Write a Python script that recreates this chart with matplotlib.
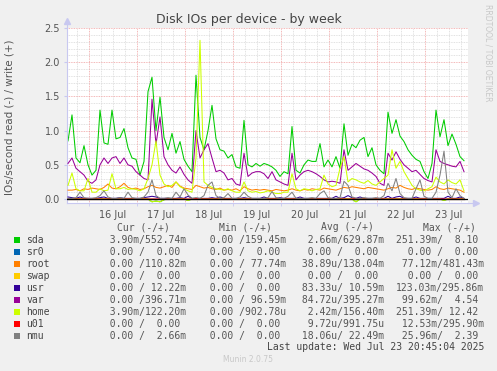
import numpy as np
import matplotlib.pyplot as plt
from matplotlib.patches import Rectangle

# samples every 2 hours, starting 15 Jul 13:30 (time axis in days of July)
start_day = 15 + 13.5 / 24
step_day = 2 / 24

sda = [0.85, 1.23, 0.60, 0.53, 0.78, 0.50, 0.35, 0.42, 1.30, 0.82,
       0.80, 1.30, 0.88, 0.90, 1.03, 0.75, 0.60, 0.58, 0.35, 0.55,
       1.57, 1.78, 1.00, 1.49, 0.90, 0.72, 0.96, 0.67, 0.84, 0.58,
       0.48, 0.40, 1.81, 0.90, 0.72, 1.00, 1.37, 0.88, 0.72, 0.70,
       0.60, 0.65, 0.47, 0.45, 1.15, 0.50, 0.47, 0.52, 0.48, 0.52,
       0.50, 0.47, 0.42, 0.33, 0.40, 0.37, 1.06, 0.42, 0.38, 0.50,
       0.57, 0.55, 0.55, 0.81, 0.47, 0.57, 0.47, 0.62, 0.45, 1.10,
       0.64, 0.80, 0.75, 0.86, 0.90, 0.62, 0.75, 0.50, 0.42, 0.37,
       1.27, 0.96, 1.16, 0.92, 0.84, 0.72, 0.64, 0.58, 0.55, 0.40,
       0.30, 0.52, 1.30, 0.91, 1.16, 0.78, 0.95, 0.80, 0.62, 0.56]

var = [0.52, 0.60, 0.45, 0.40, 0.35, 0.26, 0.23, 0.28, 0.50, 0.60,
       0.52, 0.60, 0.62, 0.52, 0.60, 0.50, 0.48, 0.40, 0.35, 0.30,
       0.28, 1.46, 0.80, 1.20, 0.62, 0.50, 0.42, 0.38, 0.47, 0.36,
       0.28, 0.23, 1.00, 0.60, 0.72, 0.81, 0.60, 0.40, 0.42, 0.38,
       0.28, 0.30, 0.22, 0.20, 0.67, 0.33, 0.38, 0.40, 0.40, 0.37,
       0.30, 0.40, 0.28, 0.25, 0.22, 0.20, 0.67, 0.28, 0.35, 0.40,
       0.42, 0.40, 0.37, 0.33, 0.28, 0.25, 0.26, 0.25, 0.23, 0.72,
       0.42, 0.47, 0.52, 0.48, 0.44, 0.42, 0.38, 0.33, 0.23, 0.20,
       0.67, 0.57, 0.69, 0.58, 0.50, 0.45, 0.40, 0.42, 0.36, 0.30,
       0.27, 0.25, 0.72, 0.55, 0.52, 0.50, 0.48, 0.47, 0.55, 0.40]

home = [0.20, 0.38, 0.15, 0.12, 0.12, 0.30, 0.10, 0.10, 0.15, 0.12,
        0.13, 0.37, 0.15, 0.15, 0.17, 0.14, 0.15, 0.14, 0.12, 0.15,
        0.30, 0.50, 0.85, 0.35, 0.22, 0.18, 0.20, 0.25, 0.18, 0.15,
        0.12, 0.10, 0.60, 2.32, 0.25, 0.20, 0.17, 0.15, 0.14, 0.13,
        0.15, 0.12, 0.10, 0.10, 0.25, 0.12, 0.10, 0.11, 0.09, 0.10,
        0.12, 0.10, 0.08, 0.08, 0.10, 0.10, 0.37, 0.15, 0.12, 0.15,
        0.14, 0.12, 0.14, 0.15, 0.35, 0.22, 0.18, 0.20, 0.45, 0.62,
        0.25, 0.30, 0.28, 0.25, 0.23, 0.27, 0.22, 0.20, 0.25, 0.30,
        0.35, 0.72, 0.45, 0.55, 0.40, 0.30, 0.20, 0.15, 0.13, 0.12,
        0.15, 0.18, 0.32, 0.25, 0.22, 0.28, 0.24, 0.22, 0.28, 0.12]

root = [0.13, 0.13, 0.14, 0.12, 0.15, 0.14, 0.16, 0.15, 0.14, 0.17,
        0.22, 0.16, 0.15, 0.18, 0.23, 0.17, 0.15, 0.16, 0.14, 0.15,
        0.18, 0.20, 0.17, 0.16, 0.18, 0.20, 0.17, 0.25, 0.19, 0.16,
        0.15, 0.14, 0.20, 0.18, 0.16, 0.17, 0.15, 0.14, 0.16, 0.13,
        0.14, 0.13, 0.15, 0.12, 0.18, 0.15, 0.13, 0.14, 0.13, 0.14,
        0.13, 0.12, 0.14, 0.13, 0.12, 0.13, 0.15, 0.13, 0.12, 0.14,
        0.13, 0.15, 0.14, 0.13, 0.16, 0.15, 0.14, 0.13, 0.15, 0.17,
        0.16, 0.18, 0.17, 0.16, 0.15, 0.17, 0.16, 0.15, 0.14, 0.13,
        0.15, 0.17, 0.16, 0.20, 0.17, 0.15, 0.14, 0.16, 0.15, 0.14,
        0.13, 0.14, 0.18, 0.15, 0.14, 0.16, 0.15, 0.14, 0.13, 0.10]

nmu = [0.01, 0.01, 0.02, 0.10, 0.02, 0.01, 0.01, 0.02, 0.05, 0.12,
       0.03, 0.01, 0.01, 0.02, 0.01, 0.10, 0.02, 0.01, 0.01, 0.03,
       0.10, 0.28, 0.05, 0.01, 0.01, 0.02, 0.01, 0.10, 0.03, 0.15,
       0.06, 0.01, 0.02, 0.01, 0.05, 0.20, 0.25, 0.05, 0.01, 0.02,
       0.08, 0.01, 0.01, 0.03, 0.10, 0.04, 0.01, 0.01, 0.01, 0.01,
       0.02, 0.11, 0.02, 0.01, 0.01, 0.04, 0.10, 0.01, 0.01, 0.01,
       0.01, 0.02, 0.01, 0.08, 0.12, 0.02, 0.01, 0.01, 0.02, 0.26,
       0.20, 0.03, 0.01, 0.01, 0.02, 0.01, 0.01, 0.02, 0.01, 0.05,
       0.23, 0.12, 0.30, 0.08, 0.02, 0.01, 0.01, 0.15, 0.28, 0.04,
       0.01, 0.01, 0.10, 0.35, 0.70, 0.10, 0.02, 0.15, 0.05, 0.01]

usr = [0.03, 0.02, 0.01, 0.03, 0.01, 0.01, 0.01, 0.01, 0.02, 0.03,
       0.01, 0.01, 0.01, 0.02, 0.01, 0.01, 0.01, 0.01, 0.01, 0.02,
       0.03, 0.04, 0.03, 0.01, 0.01, 0.01, 0.01, 0.01, 0.02, 0.01,
       0.04, 0.01, 0.01, 0.01, 0.01, 0.01, 0.02, 0.01, 0.03, 0.01,
       0.01, 0.01, 0.01, 0.01, 0.02, 0.01, 0.01, 0.01, 0.01, 0.03,
       0.01, 0.01, 0.01, 0.02, 0.01, 0.01, 0.01, 0.01, 0.03, 0.01,
       0.01, 0.01, 0.01, 0.01, 0.01, 0.01, 0.01, 0.04, 0.01, 0.02,
       0.05, 0.02, 0.01, 0.03, 0.01, 0.01, 0.01, 0.01, 0.01, 0.01,
       0.04, 0.01, 0.03, 0.04, 0.01, 0.01, 0.01, 0.03, 0.01, 0.01,
       0.01, 0.01, 0.01, 0.01, 0.01, 0.04, 0.01, 0.01, 0.03, 0.01]

u01 = [0.00, 0.00, 0.00, 0.00, 0.00, 0.01, 0.00, 0.00, 0.00, 0.00,
       0.00, 0.00, 0.00, 0.00, 0.00, 0.00, 0.00, 0.00, 0.00, 0.00,
       0.00, 0.00, 0.00, 0.00, 0.00, 0.00, 0.00, 0.00, 0.00, 0.00,
       0.00, 0.00, 0.01, 0.00, 0.00, 0.00, 0.00, 0.00, 0.00, 0.00,
       0.00, 0.00, 0.00, 0.00, 0.00, 0.00, 0.00, 0.00, 0.00, 0.00,
       0.00, 0.00, 0.00, 0.00, 0.00, 0.00, 0.00, 0.00, 0.00, 0.00,
       0.00, 0.00, 0.00, 0.00, 0.00, 0.00, 0.00, 0.00, 0.00, 0.00,
       0.00, 0.00, 0.01, 0.00, 0.00, 0.00, 0.00, 0.00, 0.00, 0.00,
       0.00, 0.00, 0.00, 0.00, 0.00, 0.00, 0.00, 0.00, 0.00, 0.00,
       0.00, 0.00, 0.00, 0.00, 0.00, 0.00, 0.00, 0.00, 0.00, 0.00]

zeros = [0.0] * 100

# reads (drawn negative)
sda_read = [0.00, 0.00, 0.00, 0.00, 0.00, 0.00, 0.00, 0.00, 0.00, 0.00,
            0.00, 0.00, 0.00, 0.00, 0.00, 0.00, 0.00, 0.00, 0.00, 0.00,
            0.00, 0.04, 0.03, 0.04, 0.01, 0.00, 0.00, 0.00, 0.00, 0.00,
            0.02, 0.00, 0.00, 0.00, 0.00, 0.00, 0.00, 0.00, 0.00, 0.00,
            0.00, 0.00, 0.00, 0.00, 0.00, 0.00, 0.00, 0.00, 0.00, 0.00,
            0.00, 0.00, 0.00, 0.00, 0.00, 0.00, 0.00, 0.00, 0.00, 0.00,
            0.00, 0.00, 0.00, 0.00, 0.00, 0.00, 0.00, 0.00, 0.00, 0.00,
            0.00, 0.00, 0.04, 0.00, 0.00, 0.00, 0.00, 0.00, 0.00, 0.00,
            0.00, 0.00, 0.00, 0.00, 0.00, 0.00, 0.00, 0.00, 0.00, 0.00,
            0.00, 0.00, 0.00, 0.00, 0.02, 0.00, 0.00, 0.00, 0.00, 0.00]
home_read = sda_read

names = ['sda', 'sr0', 'root', 'swap', 'usr', 'var', 'home', 'u01', 'nmu']
colors = ['#00cc00', '#0066b3', '#ff8000', '#ffcc00', '#330099',
          '#990099', '#ccff00', '#ff0000', '#808080']
cur = ['  3.90m/552.74m', '  0.00 /  0.00 ', '  0.00 /110.82m', '  0.00 /  0.00 ',
       '  0.00 / 12.22m', '  0.00 /396.71m', '  3.90m/122.20m', '  0.00 /  0.00 ',
       '  0.00 /  2.66m']
mins = ['  0.00 /159.45m', '  0.00 /  0.00 ', '  0.00 / 77.74m', '  0.00 /  0.00 ',
        '  0.00 /  0.00 ', '  0.00 / 96.59m', '  0.00 /902.78u', '  0.00 /  0.00 ',
        '  0.00 /  0.00 ']
avgs = ['  2.66m/629.87m', '  0.00 /  0.00 ', ' 38.89u/138.04m', '  0.00 /  0.00 ',
        ' 83.33u/ 10.59m', ' 84.72u/395.27m', '  2.42m/156.40m', '  9.72u/991.75u',
        ' 18.06u/ 22.49m']
maxs = ['251.39m/  8.10 ', '  0.00 /  0.00 ', ' 77.12m/481.43m', '  0.00 /  0.00 ',
        '123.03m/295.86m', ' 99.62m/  4.54 ', '251.39m/ 12.42 ', ' 12.53m/295.90m',
        ' 25.96m/  2.39 ']
day_labels = ['16 Jul', '17 Jul', '18 Jul', '19 Jul', '20 Jul', '21 Jul', '22 Jul', '23 Jul']

W, H = 497, 371
fig = plt.figure(figsize=(W / 100, H / 100), dpi=100, facecolor='#f0f0f0')
ax = fig.add_axes([67 / W, 1 - 203 / H, 401 / W, 175 / H])
ax.set_facecolor('white')

t = start_day + np.arange(len(sda)) * step_day
x0, x1 = 16 - 22 / 48, 16 + 379 / 48
ax.set_xlim(x0, x1)
ax.set_ylim(-0.058, 2.5)

# grid (munin style dotted)
dots = (0, (1, 1))
for v in np.arange(0.1, 2.5, 0.1):
    if abs(v / 0.5 - round(v / 0.5)) > 1e-6:
        ax.axhline(v, color='#d8d8d8', lw=0.6, ls=dots, zorder=0)
for v in np.arange(np.ceil(x0 * 4) / 4, x1, 0.25):
    if abs(v - round(v)) > 1e-6:
        ax.axvline(v, color='#d8d8d8', lw=0.6, ls=dots, zorder=0)
for v in [0.5, 1.0, 1.5, 2.0, 2.5]:
    ax.axhline(v, color='#f0a0a0', lw=0.6, ls=dots, zorder=0.5)
for d in range(16, 24):
    ax.axvline(d, color='#f0a0a0', lw=0.6, ls=dots, zorder=0.5)

series = [sda, zeros, root, zeros, usr, var, home, u01, nmu]
reads = [sda_read, zeros, zeros, zeros, zeros, zeros, home_read, zeros, zeros]
for k, (w, r) in enumerate(zip(series, reads)):
    ax.plot(t, -np.array(r), color=colors[k], lw=0.75, zorder=2 + k)
    ax.plot(t, w, color=colors[k], lw=0.75, zorder=2 + k)
ax.axhline(0, color='black', lw=0.9, zorder=20)

for s in ['top', 'right']:
    ax.spines[s].set_visible(False)
for s in ['left', 'bottom']:
    ax.spines[s].set_color('#c8c8f0')
ax.plot([0, 0], [1, 1.04], color='#c8c8f0', lw=0.8, transform=ax.transAxes, clip_on=False)
ax.plot([1, 1.02], [0, 0], color='#c8c8f0', lw=0.8, transform=ax.transAxes, clip_on=False)
ax.plot([0], [1.04], marker='^', ms=4, color='#c8c8f0', transform=ax.transAxes, clip_on=False)
ax.plot([1.02], [0], marker='>', ms=4, color='#c8c8f0', transform=ax.transAxes, clip_on=False)

ax.set_yticks([0, 0.5, 1.0, 1.5, 2.0, 2.5])
ax.set_yticklabels(['0.0', '0.5', '1.0', '1.5', '2.0', '2.5'])
ax.set_xticks([d + 0.5 for d in range(16, 24)])
ax.set_xticklabels(day_labels)
ax.set_xticks(range(16, 24), minor=True)
ax.tick_params(axis='x', which='major', length=0, pad=5, labelsize=7, labelcolor='#555555')
ax.tick_params(axis='x', which='minor', length=2, color='#c8c8f0')
ax.tick_params(axis='y', length=2, color='#c8c8f0', pad=3, labelsize=7, labelcolor='#555555')

fig.text(249 / W, 1 - 19 / H, 'Disk IOs per device - by week', ha='center', va='center',
         fontsize=9, color='#444444')
fig.text(10 / W, 1 - 117 / H, 'IOs/second read (-) / write (+)', rotation=90,
         ha='center', va='center', fontsize=7.5, color='#555555')
fig.text(488 / W, 1 - 53 / H, 'RRDTOOL / TOBI OETIKER', rotation=270, ha='center',
         va='center', fontsize=5.5, color='#c8c8c8')

mono = 'DejaVu Sans Mono'
fs = 7
for hx, h in zip([143, 245, 347.5, 449], ['Cur (-/+)', 'Min (-/+)', 'Avg (-/+)', 'Max (-/+)']):
    fig.text(hx / W, 1 - 227.5 / H, h, ha='center', va='center', family=mono,
             fontsize=fs, color='#555555')
for k, name in enumerate(names):
    y = 240 + 12 * k
    fig.patches.append(Rectangle((14 / W, 1 - (y + 3) / H), 6 / W, 6 / H,
                                 facecolor=colors[k], edgecolor='none',
                                 transform=fig.transFigure))
    fig.text(26.5 / W, 1 - y / H, name, ha='left', va='center', family=mono,
             fontsize=fs, color='#444444')
    for cx, col in zip([98, 197.5, 296.5, 395.5], [cur, mins, avgs, maxs]):
        fig.text(cx / W, 1 - y / H, col[k], ha='left', va='center', family=mono,
                 fontsize=fs, color='#555555')

fig.text(484 / W, 1 - 347 / H, 'Last update: Wed Jul 23 20:45:04 2025', ha='right',
         va='center', family=mono, fontsize=fs, color='#444444')
fig.text(248 / W, 1 - 360 / H, 'Munin 2.0.75', ha='center', va='center',
         fontsize=5.5, color='#c8c8c8')

fig.savefig('out.png', dpi=100, facecolor=fig.get_facecolor())
